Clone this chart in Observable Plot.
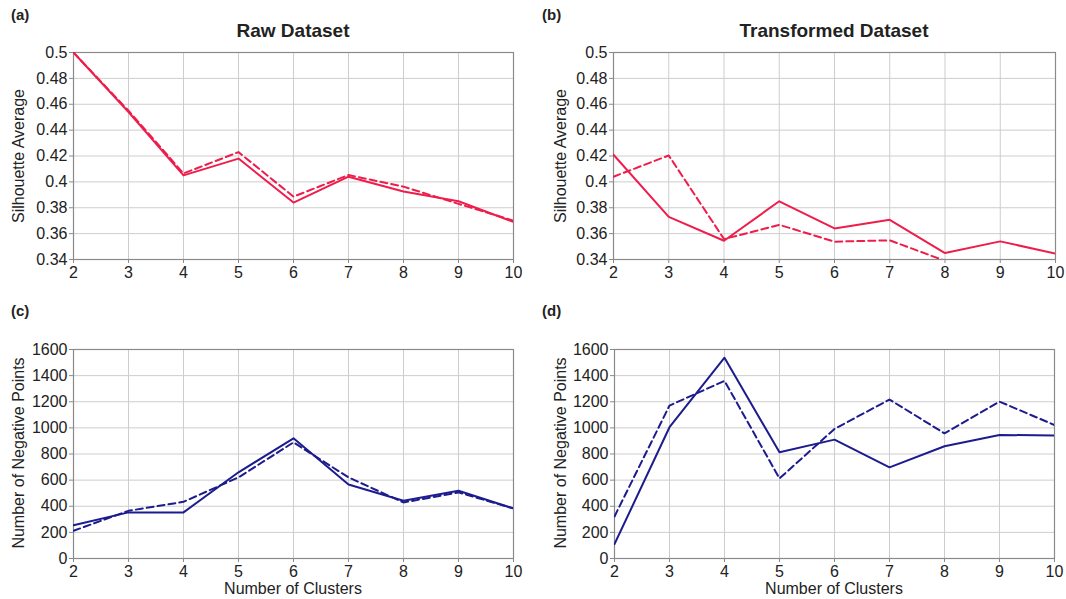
<!DOCTYPE html>
<html>
<head>
<meta charset="utf-8">
<script src="https://cdn.jsdelivr.net/npm/d3@7"></script>
<script src="https://cdn.jsdelivr.net/npm/@observablehq/plot@0.6"></script>
<style>
  html, body { margin: 0; padding: 0; background: #fff; }
  #root { position: relative; width: 1066px; height: 599px; overflow: hidden; font-family: "Liberation Sans", Arial, Helvetica, sans-serif; color: #222; }
  #root svg text { font-size: 16px !important; font-family: "Liberation Sans", Arial, Helvetica, sans-serif; }
  .abs { position: absolute; white-space: nowrap; }
  .plabel { font-weight: bold; font-size: 15px; }
  .title { font-weight: bold; font-size: 19px; transform: translate(-50%, -50%); }
  .ylab { font-size: 16px; transform: translate(-50%, -50%) rotate(-90deg); }
  .xlab { font-size: 16px; transform: translate(-50%, -50%); }
</style>
</head>
<body>
<div id="root"></div>
<script>
// ---- data ----
const clusters = [2, 3, 4, 5, 6, 7, 8, 9, 10];
const silTicks = [0.34, 0.36, 0.38, 0.4, 0.42, 0.44, 0.46, 0.48, 0.5];
const negTicks = [0, 200, 400, 600, 800, 1000, 1200, 1400, 1600];

const rawSilSolid  = [0.5, 0.454, 0.405, 0.418, 0.384, 0.404, 0.3925, 0.385, 0.369];
const rawSilDashed = [0.5, 0.455, 0.4065, 0.423, 0.3886, 0.4053, 0.3963, 0.383, 0.370];
const trSilSolid   = [0.421, 0.373, 0.3545, 0.385, 0.364, 0.3707, 0.345, 0.354, 0.3446];
const trSilDashed  = [0.404, 0.4204, 0.3558, 0.3668, 0.3538, 0.3548, 0.339];
const rawNegSolid  = [255, 353, 353, 660, 920, 567, 442, 519, 383];
const rawNegDashed = [212, 365, 434, 621, 889, 621, 429, 506, 383];
const trNegSolid   = [110, 1005, 1537, 813, 910, 698, 859, 946, 941];
const trNegDashed  = [322, 1171, 1360, 613, 992, 1217, 958, 1201, 1022];

const red = "#ee1d4b";
const navy = "#1c1c8e";

const root = document.getElementById("root");

function toRows(vals) { return vals.map((v, i) => ({x: clusters[i], y: v})); }

function panel(o) {
  const svg = Plot.plot({
    width: o.width, height: o.height,
    marginLeft: o.mL, marginRight: o.mR, marginTop: o.mT, marginBottom: o.mB,
    style: {fontFamily: '"Liberation Sans", Arial, Helvetica, sans-serif', fontSize: "16px", color: "#222", background: "transparent", overflow: "visible"},
    x: {domain: [2, 10]},
    y: {domain: o.yDomain},
    marks: [
      Plot.gridX(clusters, {stroke: "#cdcdcd", strokeOpacity: 1}),
      Plot.gridY(o.yTicks, {stroke: "#cdcdcd", strokeOpacity: 1}),
      Plot.frame({stroke: "#8a8a8a", strokeWidth: 1.2}),
      Plot.axisX({ticks: clusters, tickSize: 4, tickPadding: 3, label: null, stroke: "#8a8a8a", fill: "#222"}),
      Plot.axisY({ticks: o.yTicks, tickSize: 4, tickPadding: 2, label: null, stroke: "#8a8a8a", fill: "#222", tickFormat: o.fmt}),
      Plot.line(toRows(o.dashed), {x: "x", y: "y", stroke: o.color, strokeWidth: 2, strokeDasharray: "7,4", clip: true}),
      Plot.line(toRows(o.solid), {x: "x", y: "y", stroke: o.color, strokeWidth: 2, clip: true})
    ]
  });
  svg.style.position = "absolute";
  svg.style.left = o.left + "px";
  svg.style.top = o.top + "px";
  root.appendChild(svg);
}

function text(cls, str, x, y) {
  const d = document.createElement("div");
  d.className = "abs " + cls;
  d.style.left = x + "px";
  d.style.top = y + "px";
  d.textContent = str;
  root.appendChild(d);
}

const silFmt = d => String(+d.toFixed(2));
const negFmt = d => String(d);

panel({left: 0, top: 0, width: 533, height: 290, mL: 73, mR: 20, mT: 52, mB: 31,
  yDomain: [0.34, 0.5], yTicks: silTicks, fmt: silFmt, solid: rawSilSolid, dashed: rawSilDashed, color: red});
panel({left: 533, top: 0, width: 533, height: 290, mL: 80, mR: 11, mT: 52, mB: 31,
  yDomain: [0.34, 0.5], yTicks: silTicks, fmt: silFmt, solid: trSilSolid, dashed: trSilDashed, color: red});
panel({left: 0, top: 290, width: 533, height: 309, mL: 73, mR: 20, mT: 59, mB: 41,
  yDomain: [0, 1600], yTicks: negTicks, fmt: negFmt, solid: rawNegSolid, dashed: rawNegDashed, color: navy});
panel({left: 533, top: 290, width: 533, height: 309, mL: 81, mR: 12, mT: 59, mB: 41,
  yDomain: [0, 1600], yTicks: negTicks, fmt: negFmt, solid: trNegSolid, dashed: trNegDashed, color: navy});

text("plabel", "(a)", 11, 6);
text("plabel", "(b)", 542, 6);
text("plabel", "(c)", 11, 302);
text("plabel", "(d)", 542, 302);
text("title", "Raw Dataset", 293, 31);
text("title", "Transformed Dataset", 834, 31);
text("ylab", "Silhouette Average", 19, 156);
text("ylab", "Silhouette Average", 561, 156);
text("ylab", "Number of Negative Points", 19, 453);
text("ylab", "Number of Negative Points", 561, 453);
text("xlab", "Number of Clusters", 293, 589);
text("xlab", "Number of Clusters", 834, 589);
</script>
</body>
</html>
